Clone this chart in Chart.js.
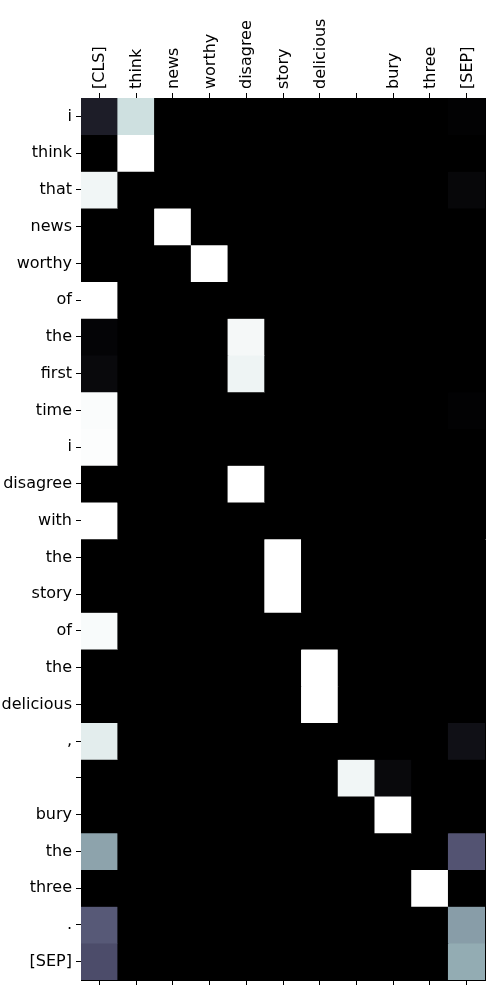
<!DOCTYPE html>
<html>
<head>
<meta charset="utf-8">
<script src="https://cdn.jsdelivr.net/npm/chart.js@4"></script>
<style>
  html, body { margin: 0; padding: 0; background: #fff; }
  canvas { display: block; }
</style>
</head>
<body>
<canvas id="c" width="500" height="1000"></canvas>
<script>
const columns = ['[CLS]', 'think', 'news', 'worthy', 'disagree', 'story', 'delicious', '', 'bury', 'three', '[SEP]'];
const rows = ['i', 'think', 'that', 'news', 'worthy', 'of', 'the', 'first', 'time', 'i', 'disagree', 'with', 'the', 'story', 'of', 'the', 'delicious', ',', '', 'bury', 'the', 'three', '.', '[SEP]'];
// attention weights, one row per token (columns in the order above)
const attention = [
  [0.13, 0.86, 0, 0, 0, 0, 0, 0, 0, 0, 0.01],
  [0, 1, 0, 0, 0, 0, 0, 0, 0, 0, 0],
  [0.96, 0, 0, 0, 0, 0, 0, 0, 0, 0, 0.03],
  [0, 0, 1, 0, 0, 0, 0, 0, 0, 0, 0],
  [0, 0, 0, 1, 0, 0, 0, 0, 0, 0, 0],
  [1, 0, 0, 0, 0, 0, 0, 0, 0, 0, 0],
  [0.02, 0, 0, 0, 0.97, 0, 0, 0, 0, 0, 0],
  [0.04, 0, 0, 0, 0.95, 0, 0, 0, 0, 0, 0],
  [0.985, 0, 0, 0, 0, 0, 0, 0, 0, 0, 0.01],
  [0.99, 0, 0, 0, 0, 0, 0, 0, 0, 0, 0],
  [0, 0, 0, 0, 1, 0, 0, 0, 0, 0, 0],
  [1, 0, 0, 0, 0, 0, 0, 0, 0, 0, 0],
  [0, 0, 0, 0, 0, 1, 0, 0, 0, 0, 0],
  [0, 0, 0, 0, 0, 1, 0, 0, 0, 0, 0],
  [0.98, 0, 0, 0, 0, 0, 0, 0, 0, 0, 0],
  [0, 0, 0, 0, 0, 0, 1, 0, 0, 0, 0],
  [0, 0, 0, 0, 0, 0, 1, 0, 0, 0, 0],
  [0.92, 0, 0, 0, 0, 0, 0, 0, 0, 0, 0.07],
  [0, 0, 0, 0, 0, 0, 0, 0.96, 0.04, 0, 0],
  [0, 0, 0, 0, 0, 0, 0, 0, 1, 0, 0],
  [0.63, 0, 0, 0, 0, 0, 0, 0, 0, 0, 0.37],
  [0, 0, 0, 0, 0, 0, 0, 0, 0, 1, 0],
  [0.39, 0, 0, 0, 0, 0, 0, 0, 0, 0, 0.61],
  [0.34, 0, 0, 0, 0, 0, 0, 0, 0, 0, 0.66]
];

// matplotlib "bone" colormap
function interp(pts, v) {
  for (let i = 1; i < pts.length; i++) {
    if (v <= pts[i][0]) {
      const [x0, y0] = pts[i - 1], [x1, y1] = pts[i];
      return y0 + (y1 - y0) * (v - x0) / (x1 - x0);
    }
  }
  return pts[pts.length - 1][1];
}
function bone(v) {
  v = Math.max(0, Math.min(1, v));
  const r = interp([[0, 0], [0.746032, 0.652778], [1, 1]], v);
  const g = interp([[0, 0], [0.365079, 0.319444], [0.746032, 0.777778], [1, 1]], v);
  const b = interp([[0, 0], [0.365079, 0.444444], [1, 1]], v);
  return `rgb(${Math.round(r * 255)},${Math.round(g * 255)},${Math.round(b * 255)})`;
}

const datasets = rows.map((rowLabel, r) => ({
  label: rowLabel,
  data: columns.map(() => [r, r + 1]),
  backgroundColor: attention[r].map(bone),
  borderWidth: 0,
  grouped: false,
  barPercentage: 1,
  categoryPercentage: 1
}));

const font = { family: 'DejaVu Sans', size: 16 };
const areaBg = {
  id: 'areaBg',
  beforeDatasetsDraw(chart) {
    const { ctx, chartArea: a } = chart;
    ctx.save();
    ctx.fillStyle = bone(0);
    ctx.fillRect(a.left, a.top, a.right - a.left, a.bottom - a.top);
    ctx.restore();
  }
};

new Chart(document.getElementById('c'), {
  type: 'bar',
  data: { labels: columns, datasets },
  plugins: [areaBg],
  options: {
    responsive: false,
    animation: false,
    devicePixelRatio: 1,
    layout: { padding: 0 },
    plugins: { legend: { display: false }, tooltip: { enabled: false } },
    scales: {
      x: {
        type: 'category',
        position: 'top',
        offset: true,
        grid: { drawOnChartArea: false, offset: false, tickLength: 5, tickColor: '#000', tickWidth: 1 },
        border: { display: true, color: '#000', width: 1 },
        ticks: { autoSkip: false, minRotation: 90, maxRotation: 90, padding: 4, labelOffset: 20, color: '#000', font },
        afterFit(s) { s.height = 98; }
      },
      x2: {
        type: 'category',
        labels: columns,
        position: 'bottom',
        offset: true,
        grid: { drawOnChartArea: false, offset: false, tickLength: 5, tickColor: '#000', tickWidth: 1 },
        border: { display: true, color: '#000', width: 1 },
        ticks: { autoSkip: false, maxRotation: 0, callback: () => '', font },
        afterFit(s) { s.height = 20; }
      },
      y: {
        type: 'linear',
        position: 'left',
        reverse: true,
        min: 0,
        max: rows.length,
        afterBuildTicks(s) { s.ticks = rows.map((_, i) => ({ value: i + 0.5 })); },
        grid: { drawOnChartArea: false, tickLength: 5, tickColor: '#000', tickWidth: 1 },
        border: { display: true, color: '#000', width: 1 },
        ticks: { autoSkip: false, padding: 4, color: '#000', font, callback: (v, i) => rows[i] },
        afterFit(s) { s.width = 81; }
      },
      y2: {
        type: 'linear',
        position: 'right',
        reverse: true,
        min: 0,
        max: rows.length,
        grid: { drawOnChartArea: false, drawTicks: false },
        border: { display: true, color: '#000', width: 1 },
        ticks: { display: false },
        afterFit(s) { s.width = 15; }
      }
    }
  }
});
</script>
</body>
</html>
